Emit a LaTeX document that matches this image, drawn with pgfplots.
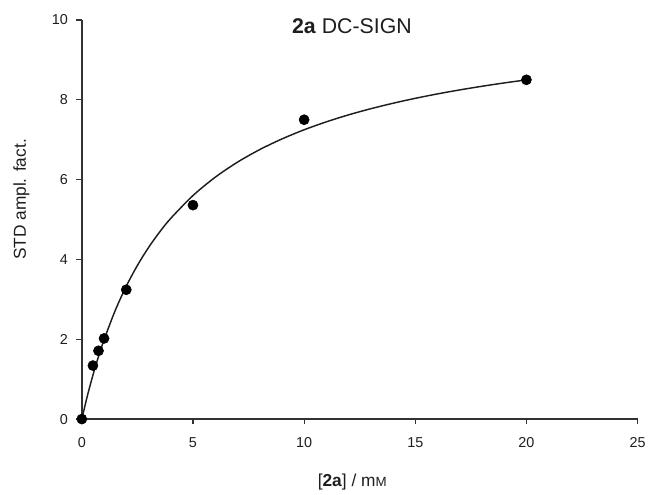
\documentclass[border=0pt]{standalone}
\usepackage{fontspec}
\setmainfont{Liberation Sans}
\usepackage{pgfplots}
\pgfplotsset{compat=1.18}
\definecolor{ink}{RGB}{30,30,30}
\definecolor{axisgray}{RGB}{50,50,50}

\begin{document}
\begin{tikzpicture}
\begin{axis}[
  scale only axis,
  width=417.75pt,height=300pt,
  xmin=0,xmax=25,ymin=0,ymax=10,
  axis x line*=bottom,
  axis y line*=left,
  axis line style={-,axisgray,line width=1.1pt},
  xtick={0,5,10,15,20,25},
  ytick={0,2,4,6,8,10},
  tick align=outside,
  major tick length=4pt,
  tick style={axisgray,line width=0.9pt},
  /pgf/number format/assume math mode=true,
  tick label style={font=\fontsize{10.8}{12}\selectfont,text=ink},
  xticklabel style={yshift=-6.5pt},
  yticklabel style={xshift=-3pt},
  xlabel={[\textbf{2a}] / m{\fontsize{10}{11}\selectfont M}},
  ylabel={STD ampl. fact.},
  label style={font=\fontsize{13}{15}\selectfont,text=ink},
  xlabel style={at={(axis description cs:0.4865,-0.158)},anchor=center},
  ylabel style={at={(axis description cs:-0.1087,0.55)},anchor=center},
  clip=false,
]
% fitted binding curve
\addplot[ink,line width=1.1pt,smooth,no marks] coordinates {
  (0,0) (0.25,0.581) (0.5,1.100) (0.75,1.566) (1,1.987) (1.5,2.717)
  (2,3.329) (2.5,3.849) (3,4.297) (3.5,4.686) (4,5.028) (5,5.600)
  (6,6.059) (7,6.436) (8,6.751) (9,7.018) (10,7.248) (11,7.447)
  (12,7.622) (13,7.776) (14,7.913) (15,8.036) (16,8.147) (17,8.247)
  (18,8.338) (19,8.422) (20,8.498)
};
% measured points
\addplot[only marks,mark=*,mark size=3.8pt,black] coordinates {
  (0,0) (0.5,1.34) (0.75,1.71) (1,2.02) (2,3.24) (5,5.36) (10,7.5) (20,8.5)
};
\node[font=\fontsize{16}{18}\selectfont,text=ink] at (axis cs:12.15,9.85) {\textbf{2a} DC-SIGN};
\end{axis}
\path (-61.5pt,-49.5pt) rectangle (426pt,315pt);
\end{tikzpicture}
\end{document}
